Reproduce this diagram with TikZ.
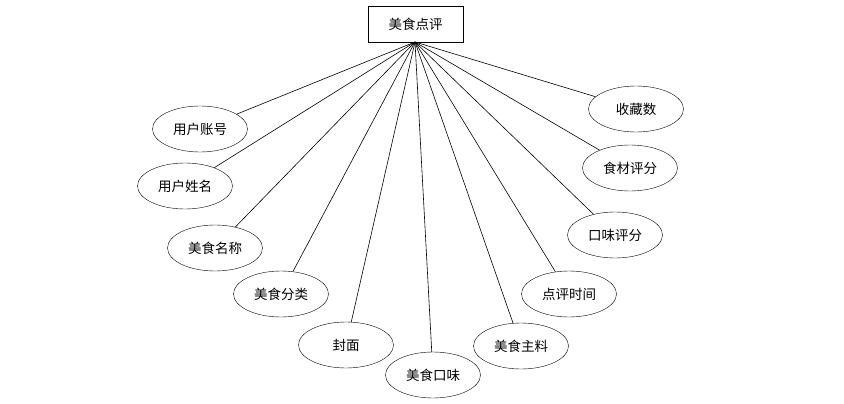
\documentclass[tikz,border=0pt]{standalone}
\usepackage{fontspec}
\setmainfont{Noto Sans CJK SC}
\usetikzlibrary{shapes.geometric}
\begin{document}
\begin{tikzpicture}[x=1pt,y=-1pt,
  attr/.style={draw,ellipse,minimum width=95pt,minimum height=46pt,inner sep=0pt,font=\fontsize{13.5}{15}\selectfont},
  ent/.style={draw,rectangle,minimum width=95pt,minimum height=36pt,inner sep=0pt,font=\fontsize{13.5}{15}\selectfont},
  conn/.style={line width=0.6pt}]
\useasboundingbox (0,0) rectangle (844,404);
\node[ent] (r) at (415.5,24) {美食点评};
\coordinate (apex) at (415,42);
\node[attr] (e1) at (200,129) {用户账号};
\node[attr] (e2) at (185,186) {用户姓名};
\node[attr] (e3) at (215,248) {美食名称};
\node[attr] (e4) at (281,294) {美食分类};
\node[attr] (e5) at (346,345) {封面};
\node[attr] (e6) at (433,375) {美食口味};
\node[attr] (e7) at (521,346) {美食主料};
\node[attr] (e8) at (569,294) {点评时间};
\node[attr] (e9) at (615,235) {口味评分};
\node[attr] (e10) at (630,168) {食材评分};
\node[attr] (e11) at (636,109) {收藏数};
\foreach \i in {1,...,11} {\draw[conn] (apex) -- (e\i);}
\end{tikzpicture}
\end{document}
